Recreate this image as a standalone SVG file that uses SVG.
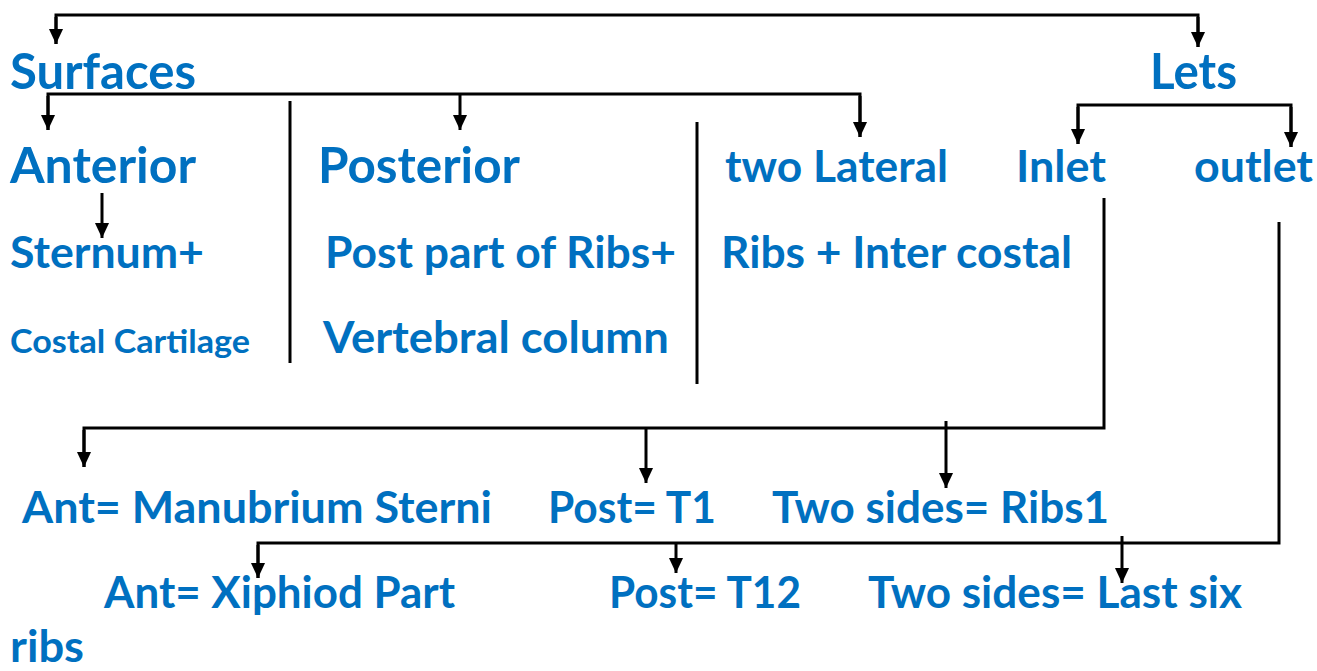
<svg xmlns="http://www.w3.org/2000/svg" width="1317" height="671" viewBox="0 0 1317 671">
<style>
text{font-family:"Lato","Open Sans","Liberation Sans",sans-serif;font-weight:700;fill:#0070C0}
.h1{font-size:49px}
.h2{font-size:43px}
.h3{font-size:33px}
.ln{fill:none;stroke:#000;stroke-width:3}
.ar{fill:none;stroke:#000;stroke-width:3;marker-end:url(#ah)}
</style>
<defs>
<marker id="ah" markerUnits="userSpaceOnUse" markerWidth="15" markerHeight="16" refX="16" refY="7.5" orient="auto" viewBox="0 0 16 15">
<path d="M0,0 L16,7.5 L0,15 Z" fill="#000"/>
</marker>
</defs>
<rect width="1317" height="671" fill="#fff"/>
<g id="connectors">
<path class="ln" d="M56,44 V15 H1198 V47"/>
<path class="ar" d="M56,17 V44"/>
<path class="ar" d="M1198,17 V47"/>
<path class="ln" d="M48,130 V94 H860 V137"/>
<path class="ar" d="M48,96 V130"/>
<path class="ar" d="M460,94 V130"/>
<path class="ar" d="M860,96 V137"/>
<path class="ln" d="M1078,144 V105 H1291 V147"/>
<path class="ar" d="M1078,107 V144"/>
<path class="ar" d="M1291,107 V147"/>
<path class="ar" d="M102,193 V238"/>
<path class="ln" d="M290,101 V363"/>
<path class="ln" d="M697,122 V384"/>
<path class="ln" d="M1104,198 V428 H84 V467"/>
<path class="ar" d="M84,430 V467"/>
<path class="ar" d="M646,428 V483"/>
<path class="ar" d="M946,421 V488"/>
<path class="ln" d="M1279,222 V543 H258 V578"/>
<path class="ar" d="M258,545 V578"/>
<path class="ar" d="M676,543 V573"/>
<path class="ar" d="M1122,536 V583"/>
</g>
<g id="surfaces"><text class="h1" x="10" y="89" textLength="186" lengthAdjust="spacingAndGlyphs">Surfaces</text></g>
<g id="lets"><text class="h1" x="1150" y="89" textLength="87" lengthAdjust="spacingAndGlyphs">Lets</text></g>
<g id="anterior"><text class="h1" x="10" y="183" textLength="186" lengthAdjust="spacingAndGlyphs">Anterior</text></g>
<g id="posterior"><text class="h1" x="318" y="183" textLength="202" lengthAdjust="spacingAndGlyphs">Posterior</text></g>
<g id="two-lateral"><text class="h2" x="725" y="182" textLength="223" lengthAdjust="spacingAndGlyphs">two Lateral</text></g>
<g id="inlet"><text class="h2" x="1016" y="182" textLength="90" lengthAdjust="spacingAndGlyphs">Inlet</text></g>
<g id="outlet"><text class="h2" x="1194" y="182" textLength="119" lengthAdjust="spacingAndGlyphs">outlet</text></g>
<g id="sternum"><text class="h2" x="10" y="268" textLength="194" lengthAdjust="spacingAndGlyphs">Sternum+</text></g>
<g id="costal-cartilage"><text class="h3" x="10" y="353" textLength="240" lengthAdjust="spacingAndGlyphs">Costal Cartilage</text></g>
<g id="post-part"><text class="h2" x="325" y="268" textLength="351" lengthAdjust="spacingAndGlyphs">Post part of Ribs+</text></g>
<g id="vertebral"><text class="h2" x="323" y="353" textLength="346" lengthAdjust="spacingAndGlyphs">Vertebral column</text></g>
<g id="ribs-intercostal"><text class="h2" x="721" y="268" textLength="351" lengthAdjust="spacingAndGlyphs">Ribs + Inter costal</text></g>
<g id="ant-manubrium"><text class="h2" x="22" y="523" textLength="470" lengthAdjust="spacingAndGlyphs">Ant= Manubrium Sterni</text></g>
<g id="post-t1"><text class="h2" x="548" y="523" textLength="168" lengthAdjust="spacingAndGlyphs">Post= T1</text></g>
<g id="sides-ribs1"><text class="h2" x="772" y="523" textLength="337" lengthAdjust="spacingAndGlyphs">Two sides= Ribs1</text></g>
<g id="ant-xiphiod"><text class="h2" x="104" y="608" textLength="351" lengthAdjust="spacingAndGlyphs">Ant= Xiphiod Part</text></g>
<g id="post-t12"><text class="h2" x="609" y="608" textLength="192" lengthAdjust="spacingAndGlyphs">Post= T12</text></g>
<g id="sides-last-six"><text class="h2" x="868" y="608" textLength="374" lengthAdjust="spacingAndGlyphs">Two sides= Last six</text><text class="h2" x="10" y="662" textLength="74" lengthAdjust="spacingAndGlyphs">ribs</text></g>
</svg>
